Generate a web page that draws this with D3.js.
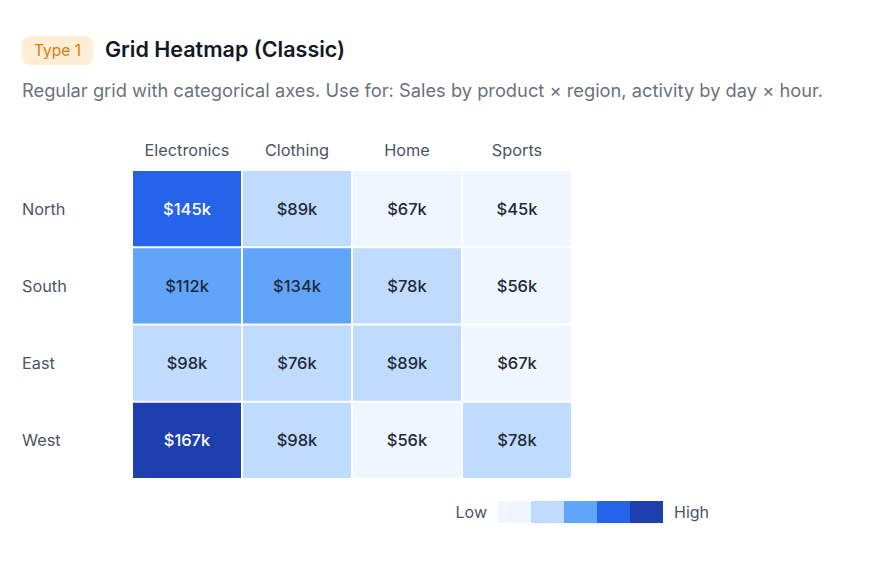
<!DOCTYPE html>
<html><head><meta charset="utf-8">
<script src="https://cdn.jsdelivr.net/npm/d3@7"></script>
<style>
body{margin:0;background:#fff;font-family:Inter,"Noto Sans",sans-serif;}
</style></head>
<body><svg id="chart" width="882" height="563"></svg>
<script>
const regions = ["North","South","East","West"];
const products = ["Electronics","Clothing","Home","Sports"];
const values = [
  [145, 89, 67, 45],
  [112, 134, 78, 56],
  [98, 76, 89, 67],
  [167, 98, 56, 78]
];
const palette = ["#eff6ff","#bfdbfe","#60a5fa","#2563eb","#1e40af"];
const legendLabels = ["Low","High"];

const svg = d3.select("#chart");
const font = "Inter, 'Noto Sans', sans-serif";

// Header badge
svg.append("rect").attr("x",22).attr("y",36).attr("width",71).attr("height",29).attr("rx",8).attr("fill","#ffedd5");
svg.append("text").attr("x",57.5).attr("y",56).attr("text-anchor","middle").attr("font-family",font)
  .attr("font-size",15.5).attr("fill","#e07b0a").text("Type 1");
svg.append("text").attr("x",105).attr("y",57).attr("font-family",font).attr("font-size",21.5)
  .attr("font-weight",600).attr("fill","#111827").text("Grid Heatmap (Classic)");
svg.append("text").attr("x",22).attr("y",96.5).attr("font-family",font).attr("font-size",18.3)
  .attr("fill","#6b7280").text("Regular grid with categorical axes. Use for: Sales by product × region, activity by day × hour.");

const x = d3.scaleBand().domain(products).range([132,572]).paddingInner(0.0);
const y = d3.scaleBand().domain(regions).range([170,479]);
const flat = values.flat();
const vmin = d3.min(flat), vmax = d3.max(flat);
const norm = d3.scaleLinear().domain([vmin,vmax]).range([0,1]);
const color = d3.scaleThreshold().domain([0.2,0.5,0.8,0.95]).range(palette);

const g = svg.append("g");
const cells = [];
regions.forEach((r,i)=>products.forEach((p,j)=>cells.push({r,p,v:values[i][j]})));
g.selectAll("rect.cell").data(cells).join("rect").attr("class","cell")
  .attr("x",d=>x(d.p)+1).attr("y",d=>y(d.r)+1)
  .attr("width",x.bandwidth()-2).attr("height",y.bandwidth()-2)
  .attr("fill",d=>color(norm(d.v)));
g.selectAll("text.val").data(cells).join("text").attr("class","val")
  .attr("x",d=>x(d.p)+x.bandwidth()/2).attr("y",d=>y(d.r)+y.bandwidth()/2+6)
  .attr("text-anchor","middle").attr("font-family",font).attr("font-size",16.5).attr("font-weight",500)
  .attr("fill",d=>norm(d.v)>=0.8?"#ffffff":"#1f2937").text(d=>`$${d.v}k`);

// Column headers
svg.selectAll("text.col").data(products).join("text").attr("class","col")
  .attr("x",d=>x(d)+x.bandwidth()/2).attr("y",155.5).attr("text-anchor","middle")
  .attr("font-family",font).attr("font-size",16.3).attr("fill","#4b5563").text(d=>d);
// Row labels
svg.selectAll("text.row").data(regions).join("text").attr("class","row")
  .attr("x",22).attr("y",d=>y(d)+y.bandwidth()/2+6)
  .attr("font-family",font).attr("font-size",16.3).attr("fill","#4b5563").text(d=>d);

// Legend
const lx = d3.scaleBand().domain(d3.range(palette.length)).range([498,663]);
svg.selectAll("rect.leg").data(palette).join("rect").attr("class","leg")
  .attr("x",(d,i)=>lx(i)).attr("y",501).attr("width",lx.bandwidth()).attr("height",22).attr("fill",d=>d);
svg.append("text").attr("x",487).attr("y",518).attr("text-anchor","end").attr("font-family",font)
  .attr("font-size",16).attr("fill","#4b5563").text(legendLabels[0]);
svg.append("text").attr("x",674).attr("y",518).attr("font-family",font)
  .attr("font-size",16).attr("fill","#4b5563").text(legendLabels[1]);
</script></body></html>
